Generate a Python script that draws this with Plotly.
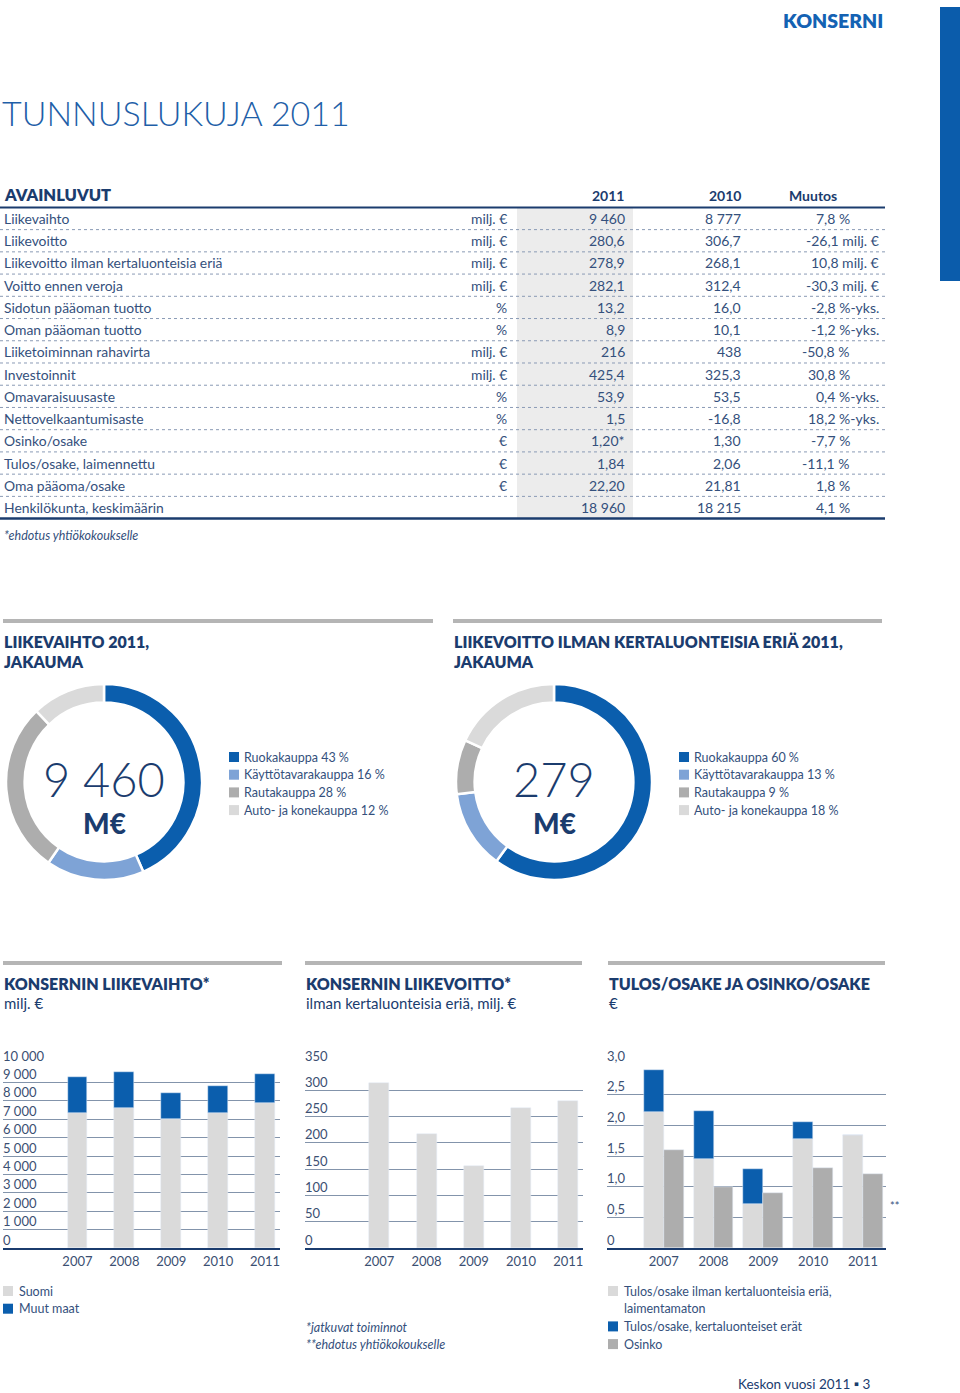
import plotly.graph_objects as go

W, H = 960, 1393
def fx(x): return x / W
def fy(y): return 1 - y / H

NAVY = "#1b3c6e"
TEXT = "#34507c"
BLUE = "#0b5ead"
LBLUE = "#7ea3d6"
GRAY = "#adadad"
LGRAY = "#dadada"
GRID = "#8394ab"
FONT = "Lato"

# ---------------- data ----------------
row_labels = ["Liikevaihto", "Liikevoitto", "Liikevoitto ilman kertaluonteisia eriä",
              "Voitto ennen veroja", "Sidotun pääoman tuotto", "Oman pääoman tuotto",
              "Liiketoiminnan rahavirta", "Investoinnit", "Omavaraisuusaste",
              "Nettovelkaantumisaste", "Osinko/osake", "Tulos/osake, laimennettu",
              "Oma pääoma/osake", "Henkilökunta, keskimäärin"]
row_units = ["milj. €", "milj. €", "milj. €", "milj. €", "%", "%", "milj. €", "milj. €",
             "%", "%", "€", "€", "€", ""]
values_2011 = ["9 460", "280,6", "278,9", "282,1", "13,2", "8,9", "216", "425,4", "53,9",
               "1,5", "1,20*", "1,84", "22,20", "18 960"]
values_2010 = ["8 777", "306,7", "268,1", "312,4", "16,0", "10,1", "438", "325,3", "53,5",
               "-16,8", "1,30", "2,06", "21,81", "18 215"]
changes = ["7,8 %", "-26,1 milj. €", "10,8 milj. €", "-30,3 milj. €", "-2,8 %-yks.",
           "-1,2 %-yks.", "-50,8 %", "30,8 %", "0,4 %-yks.", "18,2 %-yks.", "-7,7 %",
           "-11,1 %", "1,8 %", "4,1 %"]
table_header = ["AVAINLUVUT", "2011", "2010", "Muutos"]

segments = ["Ruokakauppa", "Käyttötavarakauppa", "Rautakauppa", "Auto- ja konekauppa"]
sales_share = [43, 16, 28, 12]
profit_share = [60, 13, 9, 18]
sales_total = "9 460"
profit_total = "279"

years = [2007, 2008, 2009, 2010, 2011]
year_labels = ["2007", "2008", "2009", "2010", "2011"]
sales_finland = [7350, 7630, 7020, 7340, 7870]
sales_other = [1930, 1950, 1420, 1440, 1590]
op_profit = [314, 217, 156, 267, 279]
eps_excl = [2.21, 1.45, 0.72, 1.78, 1.84]
eps_items = [0.70, 0.79, 0.56, 0.28, 0.01]
dividend = [1.60, 1.00, 0.90, 1.30, 1.20]

t1_vals = [0, 1000, 2000, 3000, 4000, 5000, 6000, 7000, 8000, 9000, 10000]
t1_text = ["0", "1 000", "2 000", "3 000", "4 000", "5 000", "6 000", "7 000", "8 000", "9 000", "10 000"]
t2_vals = [0, 50, 100, 150, 200, 250, 300, 350]
t2_text = ["0", "50", "100", "150", "200", "250", "300", "350"]
t3_vals = [0, 0.5, 1.0, 1.5, 2.0, 2.5, 3.0]
t3_text = ["0", "0,5", "1,0", "1,5", "2,0", "2,5", "3,0"]

# ---------------- helpers ----------------
shapes, ann = [], []

def text(x, y, s, size=13, color=TEXT, anchor="left", weight=400, italic=False,
         family=FONT, yanchor="middle"):
    ann.append(dict(x=fx(x), y=fy(y), xref="paper", yref="paper", text=s, showarrow=False,
                    xanchor=anchor, yanchor=yanchor, borderpad=0,
                    font=dict(family=family, size=size, color=color, weight=weight,
                              style="italic" if italic else "normal")))

def hline(x0, x1, y, color, width, dash="solid"):
    shapes.append(dict(type="line", xref="paper", yref="paper", x0=fx(x0), x1=fx(x1),
                       y0=fy(y), y1=fy(y), line=dict(color=color, width=width, dash=dash)))

def rect(x0, y0, x1, y1, color, layer="below"):
    shapes.append(dict(type="rect", xref="paper", yref="paper", x0=fx(x0), x1=fx(x1),
                       y0=fy(y1), y1=fy(y0), fillcolor=color, line=dict(width=0), layer=layer))

fig = go.Figure()

# ---------------- header ----------------
text(884, 20, "KONSERNI", size=19.5, color="#1462b3", anchor="right", weight=800)
rect(940, 7, 960, 281, "#0b5cab", layer="above")
text(1, 112, "TUNNUSLUKUJA 2011", size=34, color="#1f5fa8", weight=300)

# ---------------- table ----------------
text(3, 195, table_header[0], size=16.5, color=NAVY, weight=800)
text(625, 196, table_header[1], size=14, color=NAVY, anchor="right", weight=700)
text(742, 196, table_header[2], size=14, color=NAVY, anchor="right", weight=700)
text(838, 196, table_header[3], size=14, color=NAVY, anchor="right", weight=700)
rect(517, 208, 633, 518, "#ececec")
hline(0, 885, 207.5, NAVY, 2)
row0, dy = 218.5, 22.23
for i, lab in enumerate(row_labels):
    y = row0 + i * dy
    text(3, y, lab, size=13.9)
    if row_units[i]:
        text(508, y, row_units[i], size=13.9, anchor="right")
    text(626, y, values_2011[i], size=14, anchor="right")
    text(742, y, values_2010[i], size=14, anchor="right")
    ch = changes[i]
    text(851 if ch.endswith("%") else 880, y, ch, size=14, anchor="right")
    if i < len(row_labels) - 1:
        hline(0, 885, y + dy / 2, "#8a9ab5", 1, dash="dot")
hline(0, 885, 518.5, NAVY, 2.5)
text(3, 535, "*ehdotus yhtiökokoukselle", size=12.5, italic=True)

# ---------------- donut section ----------------
hline(3, 433, 621, "#b5b5b5", 4)
hline(453, 882, 621, "#b5b5b5", 4)
text(3, 642, "LIIKEVAIHTO 2011,", size=16, color=NAVY, weight=800)
text(3, 661, "JAKAUMA", size=16, color=NAVY, weight=800)
text(453, 642, "LIIKEVOITTO ILMAN KERTALUONTEISIA ERIÄ 2011,", size=16, color=NAVY, weight=800)
text(453, 661, "JAKAUMA", size=16, color=NAVY, weight=800)

seg_colors = [BLUE, LBLUE, GRAY, LGRAY]
for (cx, shares, total) in [(104, sales_share, sales_total), (554, profit_share, profit_total)]:
    r = 98
    fig.add_trace(go.Pie(values=shares, labels=segments, hole=0.81, sort=False,
                         direction="clockwise", rotation=0, textinfo="none",
                         marker=dict(colors=seg_colors, line=dict(color="white", width=2.5)),
                         domain=dict(x=[fx(cx - r), fx(cx + r)], y=[fy(782 + r), fy(782 - r)]),
                         showlegend=False))
    text(cx, 808, total, size=47, color=NAVY, anchor="center", weight=300, yanchor="bottom")
    text(cx, 805, "M€", size=28, color=NAVY, anchor="center", weight=900, yanchor="top")
    lx = cx + 125
    for k, (name, sh) in enumerate(zip(segments, shares)):
        yy = 757 + k * 17.7
        rect(lx, yy - 5, lx + 10, yy + 5, seg_colors[k], layer="above")
        text(lx + 14, yy, f"{name} {sh} %", size=12.5)

# ---------------- bar section ----------------
for (x0, x1) in [(3, 282), (305, 582), (608, 885)]:
    hline(x0, x1, 963, "#b5b5b5", 4)
text(3, 983, "KONSERNIN LIIKEVAIHTO*", size=16, color=NAVY, weight=800)
text(3, 1003, "milj. €", size=15, color=NAVY)
text(305, 983, "KONSERNIN LIIKEVOITTO*", size=16, color=NAVY, weight=800)
text(305, 1003, "ilman kertaluonteisia eriä, milj. €", size=15, color=NAVY)
text(608, 983, "TULOS/OSAKE JA OSINKO/OSAKE", size=16, color=NAVY, weight=800)
text(608, 1003, "€", size=15, color=NAVY)

# chart 1
fig.add_trace(go.Bar(x=years, y=sales_finland, width=0.42, offset=-0.21, marker_color=LGRAY,
                     xaxis="x", yaxis="y", name="Suomi", showlegend=False))
fig.add_trace(go.Bar(x=years, y=sales_other, base=sales_finland, width=0.42, offset=-0.21,
                     marker_color=BLUE, xaxis="x", yaxis="y", name="Muut maat", showlegend=False))
# chart 2
fig.add_trace(go.Bar(x=years, y=op_profit, width=0.423, offset=-0.2115, marker_color=LGRAY,
                     xaxis="x2", yaxis="y2", name="Liikevoitto", showlegend=False))
# chart 3
fig.add_trace(go.Bar(x=years, y=eps_excl, width=0.4, offset=-0.4, marker_color=LGRAY,
                     xaxis="x3", yaxis="y3", name="Tulos/osake ilman kertaluonteisia eriä", showlegend=False))
fig.add_trace(go.Bar(x=years, y=eps_items, base=eps_excl, width=0.4, offset=-0.4, marker_color=BLUE,
                     xaxis="x3", yaxis="y3", name="Kertaluonteiset erät", showlegend=False))
fig.add_trace(go.Bar(x=years, y=dividend, width=0.4, offset=0, marker_color=GRAY,
                     xaxis="x3", yaxis="y3", name="Osinko", showlegend=False))

ydom = [fy(1248), fy(1064)]
tickfont = dict(family=FONT, size=13, color="#3b4f72")

def xax(d0, d1, r0, r1, anchor):
    return dict(domain=[fx(d0), fx(d1)], range=[r0, r1], anchor=anchor, tickvals=years,
                ticktext=year_labels, showgrid=False, zeroline=False, showline=True,
                linecolor=NAVY, linewidth=2, ticks="", tickfont=tickfont, fixedrange=True,
                automargin=False)

def yax(rmax, tv, tt, anchor):
    return dict(domain=ydom, range=[0, rmax], anchor=anchor, tickvals=tv, ticktext=tt,
                showgrid=True, gridcolor=GRID, gridwidth=1, zeroline=False, showline=False,
                ticks="", ticklabelposition="inside", ticklabelshift=-8, ticklabelstandoff=-3,
                ticklabeloverflow="allow", tickfont=tickfont, fixedrange=True,
                automargin=False)

fig.update_layout(
    xaxis=xax(3, 280, 2005.412, 2011.32, "y"),
    yaxis=yax(10000, t1_vals, t1_text, "x"),
    xaxis2=xax(305, 582.7, 2005.427, 2011.305, "y2"),
    yaxis2=yax(350, t2_vals, t2_text, "x2"),
    xaxis3=xax(607, 885.7, 2005.861, 2011.456, "y3"),
    yaxis3=yax(3.0, t3_vals, t3_text, "x3"),
)
text(889, 1205, "**", size=11, color=TEXT)

# bottom legends
def legend_block(x, y0, items):
    k = 0
    for label, color in items:
        parts = label.split("\n")
        yy = y0 + k * 17.7
        rect(x, yy - 5, x + 10, yy + 5, color, layer="above")
        for p in parts:
            text(x + 15, y0 + k * 17.7, p, size=12.5)
            k += 1

legend_block(3, 1291, [("Suomi", LGRAY), ("Muut maat", BLUE)])
legend_block(608, 1291, [("Tulos/osake ilman kertaluonteisia eriä,\nlaimentamaton", LGRAY),
                         ("Tulos/osake, kertaluonteiset erät", BLUE), ("Osinko", GRAY)])
text(305, 1327, "*jatkuvat toiminnot", size=12.5, italic=True)
text(305, 1344, "**ehdotus yhtiökokoukselle", size=12.5, italic=True)

text(872, 1384, "Keskon vuosi 2011 ▪ 3", size=13.5, color=NAVY, anchor="right")

fig.update_layout(width=W, height=H,
                  margin=dict(l=0, r=0, t=0, b=0, pad=0, autoexpand=False),
                  paper_bgcolor="white", plot_bgcolor="white", barmode="overlay",
                  bargap=0, shapes=shapes, annotations=ann, showlegend=False,
                  font=dict(family=FONT, color=TEXT))

fig.write_html("out.html", config={"displayModeBar": False},
               post_script="document.body.style.margin='0';document.body.style.overflow='hidden';")
